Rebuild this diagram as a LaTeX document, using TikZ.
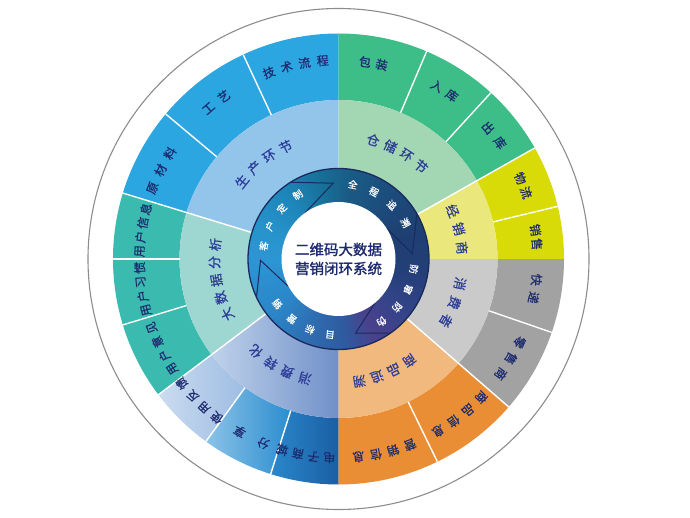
\documentclass[tikz,border=0pt]{standalone}
\usepackage{fontspec}
\newfontfamily\cjk[FakeBold=0.6]{Noto Sans CJK SC}
\newfontfamily\cjkb[FakeBold=1.6]{Noto Sans CJK SC}
\definecolor{oBlue}{HTML}{2BA6E0}
\definecolor{mBlue}{HTML}{93C5EB}
\definecolor{oGreen}{HTML}{3DBD88}
\definecolor{mGreen}{HTML}{A3D7B4}
\definecolor{oYellow}{HTML}{D8DB08}
\definecolor{mYellow}{HTML}{EAE77C}
\definecolor{oGrey}{HTML}{A2A2A2}
\definecolor{mGrey}{HTML}{CACACA}
\definecolor{oOrange}{HTML}{EA8E35}
\definecolor{mOrange}{HTML}{F1B97E}
\definecolor{oTeal}{HTML}{3BBAAF}
\definecolor{mTeal}{HTML}{9ED6D1}
\definecolor{fkL}{HTML}{CADCF0}
\definecolor{fkR}{HTML}{9EBCE2}
\definecolor{fxL}{HTML}{8CC3E8}
\definecolor{fxR}{HTML}{2A8DCF}
\definecolor{scL}{HTML}{2A88CB}
\definecolor{scR}{HTML}{1B5EA4}
\definecolor{zhL}{HTML}{BFD2EA}
\definecolor{zhR}{HTML}{7090C8}
\definecolor{txtO}{HTML}{1D2A6E}
\definecolor{txtM}{HTML}{2C3C97}
\definecolor{navyL}{HTML}{1B2A5C}
\definecolor{rimG}{HTML}{8C8C8C}
\definecolor{rA}{HTML}{2C96D4}
\definecolor{rB}{HTML}{2B86C8}
\definecolor{rC}{HTML}{2F6CB0}
\definecolor{rD}{HTML}{2F5AA0}
\definecolor{rE}{HTML}{4A418C}
\definecolor{rF}{HTML}{35448A}
\definecolor{rG}{HTML}{233F78}
\definecolor{rH}{HTML}{1E3F72}
\definecolor{rI}{HTML}{1C4C7C}
\definecolor{rJ}{HTML}{1A5A85}
\definecolor{rK}{HTML}{176E96}
\definecolor{rL}{HTML}{1E86BA}
\definecolor{rM}{HTML}{2794CC}
\tikzset{
  olab/.style={font=\cjk\fontsize{12}{13}\selectfont, text=txtO, inner sep=0pt},
  olabs/.style={font=\cjk\fontsize{11.5}{12}\selectfont, text=txtO, inner sep=0pt},
  mlab/.style={font=\cjk\fontsize{13}{14}\selectfont, text=txtM, inner sep=0pt},
  rlab/.style={font=\cjk\fontsize{9.5}{10}\selectfont, text=white, inner sep=0pt},
  divider/.style={draw=white, line width=1.4pt},
  chev/.style={draw=navyL, line width=1pt, line join=miter},
  ringedge/.style={draw=navyL, line width=1.3pt},
  rim/.style={draw=rimG, line width=1.1pt}
}
\newcommand\sector[5]{%
  \path[#1] (#2:#4pt) arc[start angle=#2, end angle=#3, radius=#4pt]
    -- (#3:#5pt) arc[start angle=#3, end angle=#2, radius=#5pt] -- cycle;%
}
\newcommand\arclabel[7]{%
  \foreach \ch [count=\i] in {#7} {%
    \pgfmathsetmacro\ang{#3+((#6+1)/2-\i)*#5}%
    \node[#1, name=#2\i, rotate=\ang-90] at (\ang:#4pt) {\ch};%
  }%
}
\begin{document}
\begin{tikzpicture}
\useasboundingbox (0,0) rectangle (690pt,-518pt);
\begin{scope}[shift={(338.5pt,-259pt)}]
\draw[rim] (0,0) circle[radius=250.5pt];
% outer ring
\sector{fill=oBlue}{90}{163}{159}{225.5}
\sector{fill=oTeal}{163}{217}{159}{225.5}
\sector{left color=fkL, right color=fkR}{217}{234}{159}{225.5}
\sector{left color=fxL, right color=fxR}{234}{252.5}{159}{225.5}
\sector{left color=scL, right color=scR}{252.5}{270}{159}{225.5}
\sector{fill=oOrange}{-90}{-41}{159}{225.5}
\sector{fill=oGrey}{-41}{0}{159}{225.5}
\sector{fill=oYellow}{0}{29.5}{159}{225.5}
\sector{fill=oGreen}{29.5}{90}{159}{225.5}
% middle ring
\sector{fill=mBlue}{90}{163}{90}{159}
\sector{fill=mTeal}{163}{217}{90}{159}
\sector{left color=zhL, right color=zhR}{217}{270}{90}{159}
\sector{fill=mOrange}{-90}{-41}{90}{159}
\sector{fill=mGrey}{-41}{0}{90}{159}
\sector{fill=mYellow}{0}{29.5}{90}{159}
\sector{fill=mGreen}{29.5}{90}{90}{159}
% dividers
\foreach \a in {163,217,29.5,-41} \draw[divider] (\a:90pt) -- (\a:225.5pt);
\foreach \a in {115,140,180,197,234,252.5,-64,-19,13.5,47.5,67} \draw[divider] (\a:159pt) -- (\a:225.5pt);
% inner gradient ring
\foreach \a/\b/\ca/\cb in {-180/-140/rA/rB,-140/-110/rB/rC,-110/-85/rC/rD,-85/-65/rD/rE,-65/-40/rE/rF,-40/-10/rF/rG,-10/20/rG/rH,20/50/rH/rI,50/80/rI/rJ,80/100/rJ/rK,100/130/rK/rL,130/160/rL/rM,160/180/rM/rA} {
  \foreach \t in {0,...,9} {
    \pgfmathsetmacro\s{\a+(\b-\a)*\t/10}
    \pgfmathsetmacro\e{\a+(\b-\a)*(\t+1)/10+0.5}
    \pgfmathtruncatemacro\p{95-10*\t}
    \fill[fill=\ca!\p!\cb] (\s:56pt) arc[start angle=\s, end angle=\e, radius=56pt]
      -- (\e:90.5pt) arc[start angle=\e, end angle=\s, radius=90.5pt] -- cycle;
  }
}
\draw[chev] (122:90.5pt) -- (94:76pt) -- (126:57pt);
\draw[chev] (30:90.5pt) -- (4:74pt) -- (33:57pt);
\draw[chev] (-55:90.5pt) -- (-77:76pt) -- (-50:57pt);
\draw[chev] (205:90.5pt) -- (181:78pt) -- (209:57pt);
\draw[ringedge] (0,0) circle[radius=90.5pt];
\fill[white] (0,0) circle[radius=57pt];
% center title
\node[name=title, font=\cjkb\fontsize{14.5}{19}\selectfont, text=txtO, align=center, inner sep=0pt] at (0,0) {二维码大数据\\营销闭环系统};
% outer labels
\arclabel{olab}{jslc}{102.5}{199}{5.3}{4}{技,术,流,程}
\arclabel{olab}{gy}{128}{199}{5.6}{2}{工,艺}
\arclabel{olab}{ycl}{153.5}{199}{5.6}{3}{原,材,料}
\arclabel{olab}{yhxx}{171.6}{199}{4.1}{4}{用,户,信,息}
\arclabel{olab}{yhxg}{188.7}{199}{4.1}{4}{用,户,习,惯}
\arclabel{olabs}{yhyj}{206.8}{199}{4.4}{4}{用,户,意,见}
\arclabel{olabs}{syfk}{225.5}{200}{4.7}{4}{使,用,反,馈}
\arclabel{olab}{fx}{244}{199}{7.6}{2}{分,享}
\arclabel{olab}{dzsc}{260.5}{199}{4.6}{4}{电,子,商,城}
\arclabel{olab}{yxxx}{-76.6}{199}{5.1}{4}{营,销,信,息}
\arclabel{olab}{spxx}{-52}{199}{5.3}{4}{商,品,信,息}
\arclabel{olab}{lss}{-30}{199}{5.3}{3}{零,售,商}
\arclabel{olab}{kd}{-8.6}{199}{5.2}{2}{快,递}
\arclabel{olab}{xs}{6.3}{199}{4.1}{2}{销,售}
\arclabel{olab}{wl}{21.7}{199}{4.4}{2}{物,流}
\arclabel{olab}{ck}{38.5}{199}{5.5}{2}{出,库}
\arclabel{olab}{rk}{57.8}{199}{5.1}{2}{入,库}
\arclabel{olab}{bz}{79.9}{199}{4.9}{2}{包,装}
% middle labels
\arclabel{mlab}{schj}{128.2}{124}{8.7}{4}{生,产,环,节}
\arclabel{mlab}{cchj}{61}{124}{8.5}{4}{仓,储,环,节}
\arclabel{mlab}{jxs}{14}{124}{8.85}{3}{经,销,商}
\arclabel{mlab}{xfz}{-20.7}{124}{9.2}{3}{消,费,者}
\arclabel{mlab}{spzs}{-67.7}{124}{8.4}{4}{商,品,追,溯}
\arclabel{mlab}{xfzh}{241.2}{124}{8.7}{4}{消,费,转,化}
\arclabel{mlab}{dsj}{189.9}{124}{8.3}{5}{大,数,据,分,析}
% ring labels
\arclabel{rlab}{khdz}{146.3}{76}{15.9}{4}{客,户,定,制}
\arclabel{rlab}{qczs}{53.8}{76}{16.9}{4}{全,程,追,溯}
\arclabel{rlab}{fcfw}{-31.6}{76}{15.9}{4}{防,窜,防,伪}
\arclabel{rlab}{mbyx}{-120}{76}{15.7}{4}{目,标,营,销}
\end{scope}
\end{tikzpicture}
\end{document}
